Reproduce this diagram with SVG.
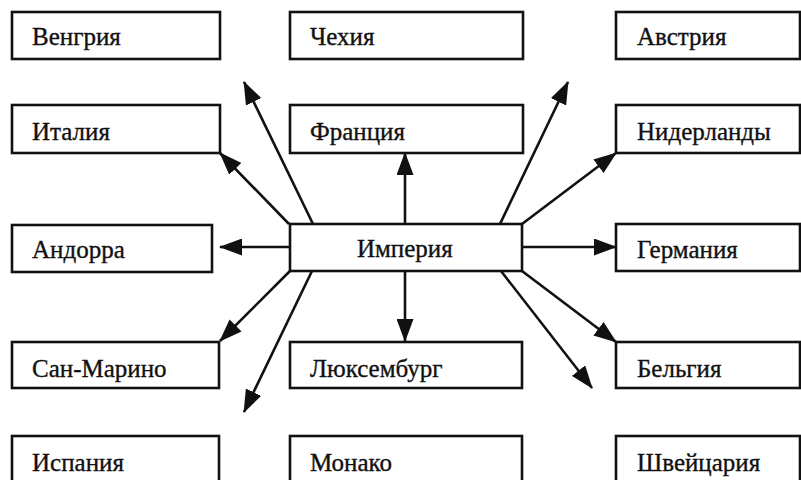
<svg xmlns="http://www.w3.org/2000/svg" width="801" height="480" viewBox="0 0 801 480">
<defs>
<style>
.box{fill:none;stroke:#111;stroke-width:2.6}
.lbl{font-family:"Liberation Serif","Times New Roman",serif;font-size:25px;fill:#111;stroke:#111;stroke-width:0.35}
.con{stroke:#111;stroke-width:2.6;fill:none;marker-end:url(#ah)}
</style>
<marker id="ah" markerUnits="userSpaceOnUse" markerWidth="23" markerHeight="17" refX="22" refY="8.5" orient="auto" viewBox="0 0 23 17">
<path d="M0,0 L23,8.5 L0,17 Z" fill="#111"/>
</marker>
</defs>
<rect width="801" height="480" fill="#fff"/>
<g id="connectors">
<line class="con" x1="313" y1="224" x2="244" y2="82"/>
<line class="con" x1="289" y1="224" x2="220" y2="153"/>
<line class="con" x1="405" y1="224" x2="405" y2="153"/>
<line class="con" x1="500" y1="224" x2="568" y2="82"/>
<line class="con" x1="522" y1="224" x2="616" y2="153"/>
<line class="con" x1="290" y1="247" x2="220" y2="247"/>
<line class="con" x1="522" y1="247" x2="616" y2="247"/>
<line class="con" x1="290" y1="271" x2="220" y2="341"/>
<line class="con" x1="312" y1="271" x2="244" y2="412"/>
<line class="con" x1="405" y1="271" x2="405" y2="341"/>
<line class="con" x1="522" y1="271" x2="616" y2="342"/>
<line class="con" x1="501" y1="271" x2="592" y2="388"/>
</g>
<g id="n-vengriya"><rect class="box" x="12" y="12" width="208" height="47"/><text class="lbl" x="32" y="45">Венгрия</text></g>
<g id="n-chehiya"><rect class="box" x="290" y="12" width="233" height="47"/><text class="lbl" x="310" y="45">Чехия</text></g>
<g id="n-avstriya"><rect class="box" x="616" y="12" width="184" height="47"/><text class="lbl" x="637" y="45">Австрия</text></g>
<g id="n-italiya"><rect class="box" x="12" y="105" width="208" height="48"/><text class="lbl" x="32" y="140">Италия</text></g>
<g id="n-franciya"><rect class="box" x="290" y="105" width="233" height="48"/><text class="lbl" x="310" y="140">Франция</text></g>
<g id="n-niderlandy"><rect class="box" x="616" y="105" width="184" height="48"/><text class="lbl" x="637" y="140">Нидерланды</text></g>
<g id="n-andorra"><rect class="box" x="12" y="225" width="200" height="47"/><text class="lbl" x="32" y="258">Андорра</text></g>
<g id="n-imperiya"><rect class="box" x="290" y="224" width="232" height="47"/><text class="lbl" x="357" y="257">Империя</text></g>
<g id="n-germaniya"><rect class="box" x="616" y="224" width="184" height="47"/><text class="lbl" x="637" y="258">Германия</text></g>
<g id="n-san-marino"><rect class="box" x="12" y="342" width="207" height="46"/><text class="lbl" x="32" y="377">Сан-Марино</text></g>
<g id="n-lyuksemburg"><rect class="box" x="290" y="342" width="232" height="46"/><text class="lbl" x="310" y="377">Люксембург</text></g>
<g id="n-belgiya"><rect class="box" x="616" y="342" width="184" height="46"/><text class="lbl" x="637" y="377">Бельгия</text></g>
<g id="n-ispaniya"><rect class="box" x="12" y="436" width="207" height="60"/><text class="lbl" x="32" y="471">Испания</text></g>
<g id="n-monako"><rect class="box" x="290" y="436" width="232" height="60"/><text class="lbl" x="310" y="471">Монако</text></g>
<g id="n-shveycariya"><rect class="box" x="616" y="436" width="184" height="60"/><text class="lbl" x="637" y="471">Швейцария</text></g>
</svg>
